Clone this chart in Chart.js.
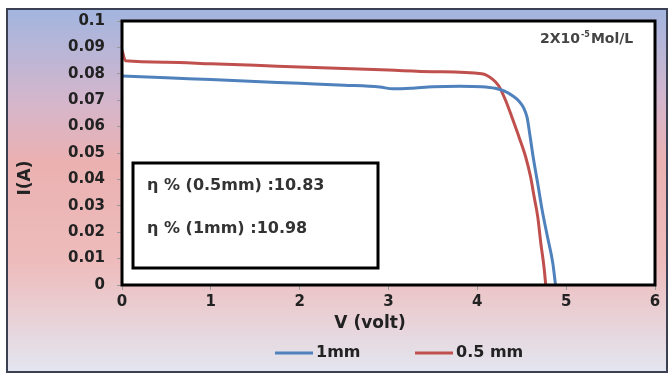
<!DOCTYPE html>
<html>
<head>
<meta charset="utf-8">
<script src="https://cdn.jsdelivr.net/npm/chart.js@4"></script>
<style>
  html, body { margin: 0; padding: 0; background: #fff; }
  #wrap { width: 671px; height: 376px; }
</style>
</head>
<body>
<div id="wrap"><canvas id="ivChart" width="671" height="376"></canvas></div>
<script>
// I-V curves
const seriesLabels = ['1mm', '0.5 mm']
const v1mm = [0, 0.5, 1, 1.5, 2, 2.5, 2.9, 3.05, 3.25, 3.5, 3.8, 4.05, 4.2, 4.3, 4.4, 4.47, 4.52, 4.56, 4.59, 4.63, 4.68, 4.73, 4.79, 4.85, 4.88]
const i1mm = [0.0792, 0.0785, 0.0778, 0.0771, 0.0764, 0.0757, 0.0750, 0.0743, 0.0745, 0.0751, 0.0753, 0.0751, 0.0745, 0.0735, 0.0716, 0.0696, 0.0672, 0.0635, 0.0572, 0.0482, 0.0384, 0.0283, 0.0182, 0.0082, 0]
const v05mm = [0, 0.04, 0.5, 1, 1.5, 2, 2.5, 3, 3.5, 4.05, 4.17, 4.24, 4.32, 4.39, 4.47, 4.545, 4.6, 4.64, 4.68, 4.715, 4.75, 4.77]
const i05mm = [0.089, 0.0849, 0.0844, 0.0838, 0.0832, 0.0826, 0.0820, 0.0814, 0.0808, 0.0800, 0.0780, 0.0755, 0.0698, 0.0635, 0.0560, 0.0484, 0.0409, 0.0333, 0.0258, 0.0157, 0.0069, 0]
const xTickLabels = ['0', '1', '2', '3', '4', '5', '6']
const yTickLabels = ['0', '0.01', '0.02', '0.03', '0.04', '0.05', '0.06', '0.07', '0.08', '0.09', '0.1']
const efficiencyNotes = ['η % (0.5mm) :10.83', 'η % (1mm) :10.98']

const toPoints = (xs, ys) => xs.map((x, k) => ({ x: x, y: ys[k] }))

const FONT = '"DejaVu Sans", sans-serif'

const decor = {
  id: 'decor',
  beforeDraw(chart) {
    const { ctx, chartArea: a } = chart
    ctx.save()
    // outer panel
    const g = ctx.createLinearGradient(0, 10, 0, 372)
    g.addColorStop(0, '#a3b5df')
    g.addColorStop(0.25, '#d4b6cc')
    g.addColorStop(0.42, '#ebb1b1')
    g.addColorStop(0.7, '#eebcbc')
    g.addColorStop(1, '#e3e6f0')
    ctx.fillStyle = g
    ctx.fillRect(7, 9, 660, 363)
    ctx.strokeStyle = '#3b4152'
    ctx.lineWidth = 2
    ctx.strokeRect(7, 9, 660, 363)
    // plot area
    ctx.fillStyle = '#fff'
    ctx.fillRect(a.left, a.top, a.right - a.left, a.bottom - a.top)
    ctx.restore()
  },
  afterDatasetsDraw(chart) {
    const { ctx, chartArea: a } = chart
    ctx.save()
    ctx.strokeStyle = '#000'
    ctx.lineWidth = 3
    ctx.strokeRect(a.left, a.top, a.right - a.left, a.bottom - a.top)

    // efficiency box
    ctx.fillStyle = '#fff'
    ctx.fillRect(133, 163, 245, 105)
    ctx.strokeRect(133, 163, 245, 105)
    ctx.fillStyle = '#333'
    ctx.font = 'bold 16px ' + FONT
    ctx.textBaseline = 'alphabetic'
    ctx.textAlign = 'left'
    efficiencyNotes.forEach((t, k) => ctx.fillText(t, 147, 190 + k * 43))

    // concentration note
    ctx.fillStyle = '#444'
    let px = 540
    ctx.font = 'bold 14px ' + FONT
    ctx.fillText('2X10', px, 43)
    px += ctx.measureText('2X10').width
    ctx.font = 'bold 8px ' + FONT
    ctx.fillText('-5', px + 1, 37)
    px += ctx.measureText('-5').width + 2
    ctx.font = 'bold 14px ' + FONT
    ctx.fillText('Mol/L', px, 43)

    // axis titles
    ctx.fillStyle = '#222'
    ctx.font = 'bold 17px ' + FONT
    ctx.textAlign = 'center'
    ctx.textBaseline = 'middle'
    ctx.fillText('V (volt)', 370, 324)
    ctx.save()
    ctx.translate(26, 178)
    ctx.rotate(-Math.PI / 2)
    ctx.fillText('I(A)', 0, 0)
    ctx.restore()

    // legend
    const legendX = [275, 415]
    ctx.font = 'bold 16px ' + FONT
    ctx.textAlign = 'left'
    chart.data.datasets.forEach((ds, k) => {
      ctx.strokeStyle = ds.borderColor
      ctx.lineWidth = 3
      ctx.beginPath()
      ctx.moveTo(legendX[k], 353)
      ctx.lineTo(legendX[k] + 38, 353)
      ctx.stroke()
      ctx.fillStyle = '#222'
      ctx.fillText(ds.label, legendX[k] + 41, 353)
    })
    ctx.restore()
  }
}

new Chart(document.getElementById('ivChart'), {
  type: 'scatter',
  data: {
    datasets: [
      { label: seriesLabels[0], data: toPoints(v1mm, i1mm), borderColor: '#4f81bd', borderWidth: 3,
        showLine: true, pointRadius: 0, cubicInterpolationMode: 'monotone' },
      { label: seriesLabels[1], data: toPoints(v05mm, i05mm), borderColor: '#c0504d', borderWidth: 3,
        showLine: true, pointRadius: 0, cubicInterpolationMode: 'monotone' }
    ]
  },
  options: {
    responsive: false,
    animation: false,
    layout: { padding: { left: 0, right: 16, top: 18, bottom: 0 } },
    plugins: { legend: { display: false }, tooltip: { enabled: false } },
    scales: {
      x: {
        type: 'linear', min: 0, max: 6,
        afterFit: (s) => { s.height = 91 },
        ticks: { stepSize: 1, padding: 3, color: '#222', font: { family: FONT, size: 15, weight: 'bold' },
          callback: (v, idx) => xTickLabels[idx] },
        grid: { drawOnChartArea: false, drawTicks: true, tickLength: 5, color: '#9a9a9a' },
        border: { display: false }
      },
      y: {
        type: 'linear', min: 0, max: 0.1,
        afterFit: (s) => { s.width = 122 },
        ticks: { stepSize: 0.01, padding: 12, color: '#222', font: { family: FONT, size: 15, weight: 'bold' },
          callback: (v, idx) => yTickLabels[idx] },
        grid: { drawOnChartArea: false, drawTicks: true, tickLength: 5, color: '#9a9a9a' },
        border: { display: false }
      }
    }
  },
  plugins: [decor]
})
</script>
</body>
</html>
